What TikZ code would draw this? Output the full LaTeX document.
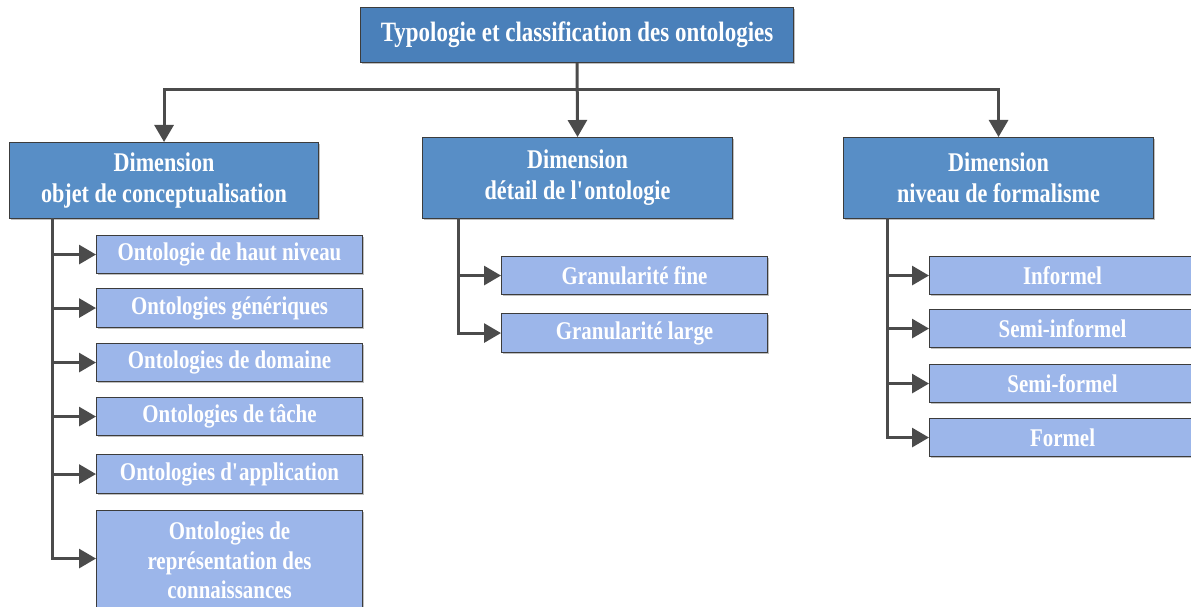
\documentclass[tikz,border=0pt]{standalone}
\usepackage{fontspec}
\setmainfont[FakeStretch=0.82]{Liberation Serif}
\usetikzlibrary{arrows.meta,shadows,calc}
\definecolor{titlefill}{RGB}{74,128,186}
\definecolor{dimfill}{RGB}{88,142,198}
\definecolor{subfill}{RGB}{156,182,234}
\definecolor{edgecol}{RGB}{60,60,60}
\definecolor{linecol}{RGB}{75,75,75}
\tikzset{
  box/.style={draw=edgecol, line width=1.1pt, anchor=north west, align=center,
    text=white, font=\bfseries, inner sep=0pt,
    drop shadow={shadow xshift=1.5pt, shadow yshift=-1.5pt, fill=black, opacity=0.25}},
  titlebox/.style={box, fill=titlefill, font=\fontsize{28}{32}\bfseries\selectfont},
  dimbox/.style={box, fill=dimfill, font=\fontsize{27}{31}\bfseries\selectfont},
  subbox/.style={box, fill=subfill, font=\fontsize{25.5}{29.5}\bfseries\selectfont},
  conn/.style={draw=linecol, line width=3pt},
  arr/.style={conn, -{Triangle[length=17pt,width=19pt]}},
}
\begin{document}
\begin{tikzpicture}[x=1pt,y=-1pt]
\useasboundingbox (0,0) rectangle (1191,607);
\clip (0,0) rectangle (1191,607);
% title
\node[titlebox, minimum width=433pt, minimum height=55pt] (T) at (360,7) {Typologie et classification des ontologies};
% dimensions
\node[dimbox, minimum width=309pt, minimum height=76pt] (D1) at (9,142) {Dimension\\objet de conceptualisation};
\node[dimbox, minimum width=310pt, minimum height=81pt] (D2) at (422,137) {Dimension\\détail de l\textquotesingle ontologie};
\node[dimbox, minimum width=310pt, minimum height=81pt] (D3) at (843,137) {Dimension\\niveau de formalisme};
% left column
\node[subbox, minimum width=266pt, minimum height=38pt] (L1) at (96,235) {Ontologie de haut niveau};
\node[subbox, minimum width=266pt, minimum height=39pt] (L2) at (96,288) {Ontologies génériques};
\node[subbox, minimum width=266pt, minimum height=38pt] (L3) at (96,343) {Ontologies de domaine};
\node[subbox, minimum width=266pt, minimum height=38pt] (L4) at (96,397) {Ontologies de tâche};
\node[subbox, minimum width=266pt, minimum height=39pt] (L5) at (96,454) {Ontologies d\textquotesingle application};
\node[subbox, minimum width=266pt, minimum height=100pt] (L6) at (96,510) {Ontologies de\\représentation des\\connaissances};
% middle column
\node[subbox, minimum width=266pt, minimum height=38pt] (M1) at (501,256) {Granularité fine};
\node[subbox, minimum width=266pt, minimum height=39pt] (M2) at (501,313) {Granularité large};
% right column
\node[subbox, minimum width=266pt, minimum height=38pt] (R1) at (929,256) {Informel};
\node[subbox, minimum width=266pt, minimum height=38pt] (R2) at (929,309) {Semi-informel};
\node[subbox, minimum width=266pt, minimum height=38pt] (R3) at (929,364) {Semi-formel};
\node[subbox, minimum width=266pt, minimum height=38pt] (R4) at (929,418) {Formel};
% top connectors
\coordinate (J) at ($(T.south)+(0,26)$);
\draw[arr] (T.south) -- (D2.north);
\draw[arr] (J) -| (D1.north);
\draw[arr] (J) -| (D3.north);
% branch connectors
\coordinate (B1) at (52,218);
\coordinate (B2) at (458,218);
\coordinate (B3) at (887,218);
\foreach \n/\dy in {L1/0,L2/0,L3/0,L4/0,L5/0,L6/-2}{
  \draw[arr] (B1) |- ($(\n.west)+(0,\dy)$);
}
\foreach \n in {M1,M2}{\draw[arr] (B2) |- (\n.west);}
\foreach \n in {R1,R2,R3,R4}{\draw[arr] (B3) |- (\n.west);}
\end{tikzpicture}
\end{document}
